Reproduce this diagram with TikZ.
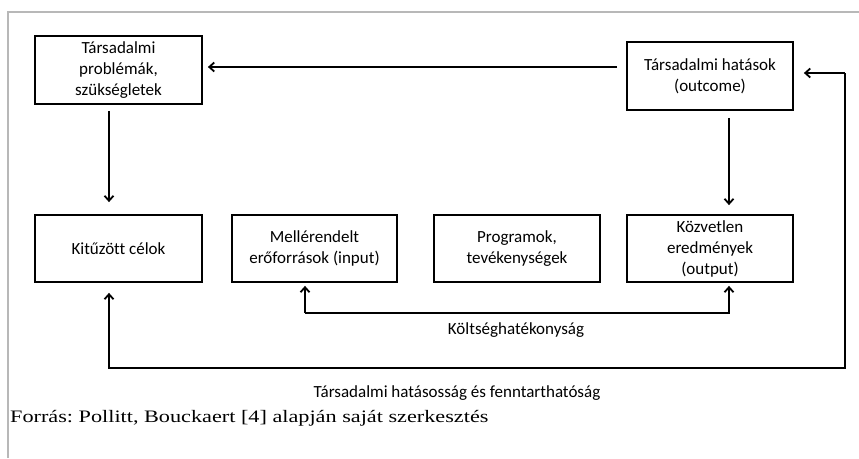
\documentclass[tikz,border=0pt]{standalone}
\usepackage{fontspec}
\setmainfont{Carlito}[Ligatures=NoCommon]
\newfontfamily\timesf[FakeStretch=1.27]{Liberation Serif}
\usetikzlibrary{arrows.meta}
\begin{document}
\begin{tikzpicture}[x=1pt,y=-1pt,
  box/.style={draw,line width=1.8pt,align=center,inner sep=0pt,font=\fontsize{17}{21}\selectfont},
  conn/.style={line width=1.8pt,-{Straight Barb[length=5pt,width=9pt,line width=1.8pt]}},
  lbl/.style={font=\fontsize{17}{21}\selectfont}]
\useasboundingbox (0,0) rectangle (859,458);
\draw[line width=2pt,color=black!28] (8,458) -- (8,12) -- (859,12);
\node[box,minimum width=167pt,minimum height=68pt] (prob) at (118.5,70) {Társadalmi\\problémák,\\szükségletek};
\node[box,minimum width=166pt,minimum height=68pt] (hat) at (710,76) {Társadalmi hatások\\(outcome)};
\node[box,minimum width=167pt,minimum height=67pt] (kit) at (118.5,248.5) {Kitűzött célok};
\node[box,minimum width=165pt,minimum height=67pt] (mell) at (314.5,248.5) {Mellérendelt\\erőforrások (input)};
\node[box,minimum width=166pt,minimum height=67pt] (prog) at (517,248.5) {Programok,\\tevékenységek};
\node[box,minimum width=166pt,minimum height=67pt] (kozv) at (710,248.5) {Közvetlen\\eredmények\\(output)};
\node[lbl] (kolt) at (516,330) {Költséghatékonyság};
\node[lbl] (tars) at (457,393) {Társadalmi hatásosság és fenntarthatóság};
\node[anchor=west,inner sep=0pt,font=\timesf\frenchspacing\fontsize{17.5}{20}\selectfont] (forras) at (10,418) {Forrás: Pollitt, Bouckaert [4] alapján saját szerkesztés};
\coordinate (c1) at (305,313);
\coordinate (c2) at (729,313);
\coordinate (d1) at (109,368);
\coordinate (d2) at (845,368);
\coordinate (d3) at (845,73);
\draw[conn,shorten <=9pt,shorten >=5pt] (hat.west |- 0,67) -- (prob.east |- 0,67);
\draw[conn,shorten <=6pt,shorten >=12pt] (prob.south -| 109,0) -- (kit.north -| 109,0);
\draw[conn,shorten <=7pt,shorten >=9pt] (hat.south -| 729,0) -- (kozv.north -| 729,0);
\draw[conn,shorten >=3pt] (c1) -- (mell.south -| c1);
\draw[conn,shorten >=3pt] (c1) -- (c2) -- (kozv.south -| c2);
\draw[conn,shorten >=10pt] (d3) -- (hat.east |- d3);
\draw[conn,shorten >=10pt] (d3) -- (d2) -- (d1) -- (kit.south -| d1);
\end{tikzpicture}
\end{document}
